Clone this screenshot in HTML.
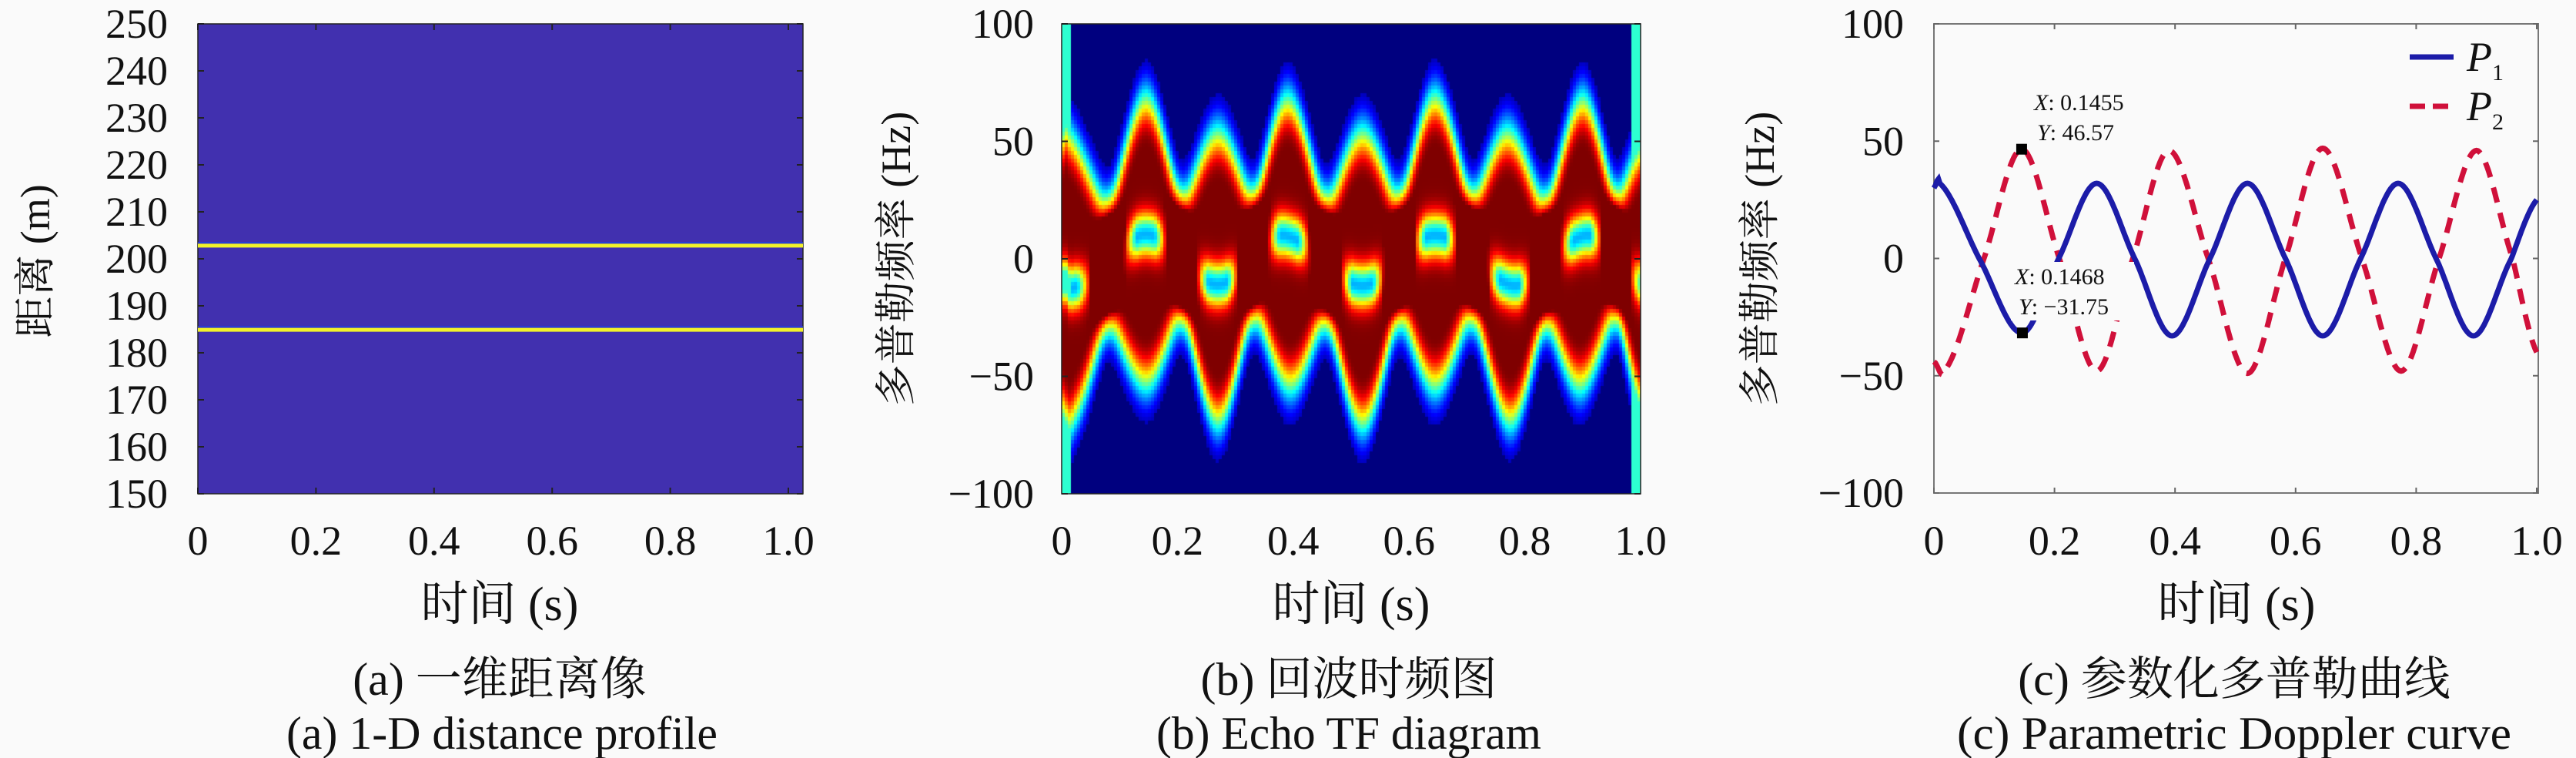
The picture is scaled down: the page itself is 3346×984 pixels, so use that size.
<!DOCTYPE html>
<html><head><meta charset="utf-8"><style>
html,body{margin:0;padding:0;background:#fafafa;}
svg{display:block;}
text{font-family:"Liberation Serif","Noto Serif CJK SC",serif;fill:#111;}
.cj{font-family:"Liberation Serif","Noto Serif CJK SC","Noto Sans CJK SC",serif;}
</style></head><body>
<svg id="fig" width="3346" height="984" viewBox="0 0 3346 984" xmlns="http://www.w3.org/2000/svg">
<rect x="0" y="0" width="3346" height="984" fill="#fafafa"/>
<g id="pa"></g>
<g id="pb"><foreignObject x="1379" y="31" width="752" height="610"><canvas xmlns="http://www.w3.org/1999/xhtml" id="tfc" width="752" height="610" style="display:block"></canvas></foreignObject></g>
<g id="pc"></g>
</svg>
<script>
// ---------- data ----------
const aYTicks=[150,160,170,180,190,200,210,220,230,240,250];
const aXTicks=[0,0.2,0.4,0.6,0.8,1.0];
const aXTickLabels=["0","0.2","0.4","0.6","0.8","1.0"];
const aRanges=[202.8,184.9];
const bYTicks=[-100,-50,0,50,100];
const bYTickLabels=["\u2212100","\u221250","0","50","100"];
const cYTicks=[-100,-50,0,50,100];
const p1T=[0,0.01,0.075,0.146,0.207,0.27,0.333,0.395,0.458,0.52,0.583,0.645,0.708,0.77,0.833,0.895,0.958,1.0];
const p1V=[30,32,0,-31.75,0,32,0,-33,0,32,0,-33,0,32,0,-33,0,25];
const p2T=[0,0.02,0.083,0.1455,0.208,0.27,0.33,0.39,0.455,0.52,0.583,0.645,0.71,0.775,0.838,0.90,0.96,1.0];
const p2V=[-44,-47,0,46.57,0,-48,0,46,0,-49,0,47,0,-48,0,46,0,-40];
const marks=[[0.1455,46.57],[0.1468,-31.75]];

const NS="http://www.w3.org/2000/svg";
function el(tag,attrs,parent,txt){const e=document.createElementNS(NS,tag);for(const k in attrs)e.setAttribute(k,attrs[k]);if(txt!==undefined)e.textContent=txt;parent.appendChild(e);return e;}
function lin(d0,d1,r0,r1){return v=>r0+(v-d0)/(d1-d0)*(r1-r0);}
function interp(T,V,t){
  let i=0;while(i<T.length-2&&t>T[i+1])i++;
  const p0=V[Math.max(i-1,0)],p1=V[i],p2=V[i+1],p3=V[Math.min(i+2,V.length-1)];
  const u=(t-T[i])/(T[i+1]-T[i]);
  return 0.5*((2*p1)+(-p0+p2)*u+(2*p0-5*p1+4*p2-p3)*u*u+(-p0+3*p1-3*p2+p3)*u*u*u);
}
const TOP=31,BOT=641;
const TF=54, TT=62, YT=54, CF=60;

// ---------- panel a ----------
const pa=document.getElementById('pa');
const ax=lin(0,1,257,1024), ay=lin(150,250,BOT,TOP);
let r=el('rect',{x:257,y:TOP,width:786,height:BOT-TOP,fill:'#4130af',stroke:'#222','stroke-width':1.5},pa);

aRanges.forEach(v=>{const l=el('line',{x1:257,x2:1043,y1:ay(v),y2:ay(v),stroke:'#f2f22a','stroke-width':5},pa);
 
 el('line',{x1:257,x2:1043,y1:ay(v)-4,y2:ay(v)-4,stroke:'#2040e0','stroke-width':1.5},pa);});
aYTicks.forEach(v=>{el('line',{x1:257,x2:265,y1:ay(v),y2:ay(v),stroke:'#222','stroke-width':2},pa);
 el('line',{x1:1035,x2:1043,y1:ay(v),y2:ay(v),stroke:'#222','stroke-width':2},pa);
 const t=el('text',{x:218,y:ay(v)+18,'font-size':TF,'text-anchor':'end'},pa,String(v));
 });
aXTicks.forEach((v,i)=>{el('line',{x1:ax(v),x2:ax(v),y1:BOT,y2:BOT-8,stroke:'#222','stroke-width':2},pa);
 el('line',{x1:ax(v),x2:ax(v),y1:TOP,y2:TOP+8,stroke:'#222','stroke-width':2},pa);
 const t=el('text',{x:ax(v),y:720,'font-size':TF,'text-anchor':'middle'},pa,aXTickLabels[i]);
 });
let t=el('text',{x:0,y:0,'font-size':YT,'text-anchor':'middle',class:'cj',transform:'translate(64,339) rotate(-90)'},pa,'距离 (m)');

t=el('text',{x:649,y:805,'font-size':TT,'text-anchor':'middle',class:'cj'},pa,'时间 (s)');

t=el('text',{x:649,y:902,'font-size':CF,'text-anchor':'middle',class:'cj'},pa,'(a) 一维距离像');

t=el('text',{x:652,y:972,'font-size':CF,'text-anchor':'middle',textLength:560,lengthAdjust:'spacingAndGlyphs'},pa,'(a) 1-D distance profile');


// ---------- panel b ----------
const pb=document.getElementById('pb');
const bx=lin(0,1,1379,2131), by=lin(-100,100,BOT,TOP);
function jet(v){v=Math.max(0,Math.min(1,v));
 const r=Math.max(0,Math.min(1,1.5-Math.abs(4*v-3))),g=Math.max(0,Math.min(1,1.5-Math.abs(4*v-2))),b=Math.max(0,Math.min(1,1.5-Math.abs(4*v-1)));
 return [r*255|0,g*255|0,b*255|0];}
const cv=document.getElementById('tfc'),cx=cv.getContext('2d');
const NX=188,NY=122,cw=752/NX,ch=610/NY,W=24.5,P=2.33;
function prof(d){return Math.exp(-Math.pow(Math.abs(d)/W,P));}
for(let i=0;i<NX;i++){const tt=(i+0.5)/NX;const f1=interp(p1T,p1V,tt),f2=interp(p2T,p2V,tt);
 const lo=Math.min(f1,f2),hi=Math.max(f1,f2),fm=(f1+f2)/2+3*Math.sign(f2-f1);
 for(let j=0;j<NY;j++){const f=100-(j+0.5)/NY*200;
  let v=prof(f-f1)+prof(f-f2);
  if(f>lo&&f<hi){v=Math.max(v,1.0-0.7*Math.exp(-Math.pow((f-fm)/9,2))*Math.min(1,(hi-lo-40)/30));}
  const edge=Math.min(tt,1-tt); if(edge<0.016) v=Math.max(v,0.42);
  if(v<0.06) v=0;
  const c=jet(v);cx.fillStyle=`rgb(${c[0]},${c[1]},${c[2]})`;
  cx.fillRect(Math.floor(i*cw),Math.floor(j*ch),Math.ceil(cw)+1,Math.ceil(ch)+1);}}
el('rect',{x:1379,y:TOP,width:752,height:BOT-TOP,fill:'none',stroke:'#222','stroke-width':1.5},pb);
bYTicks.forEach((v,i)=>{el('line',{x1:1379,x2:1387,y1:by(v),y2:by(v),stroke:'#222','stroke-width':2},pb);
 el('line',{x1:2123,x2:2131,y1:by(v),y2:by(v),stroke:'#222','stroke-width':2},pb);
 const t=el('text',{x:1343,y:by(v)+18,'font-size':TF,'text-anchor':'end'},pb,bYTickLabels[i]);
 });
aXTicks.forEach((v,i)=>{const t=el('text',{x:bx(v),y:720,'font-size':TF,'text-anchor':'middle'},pb,aXTickLabels[i]);
 });
t=el('text',{x:0,y:0,'font-size':YT,'text-anchor':'middle',class:'cj',transform:'translate(1182,336) rotate(-90)'},pb,'多普勒频率 (Hz)');

t=el('text',{x:1755,y:805,'font-size':TT,'text-anchor':'middle',class:'cj'},pb,'时间 (s)');

t=el('text',{x:1752,y:902,'font-size':CF,'text-anchor':'middle',class:'cj'},pb,'(b) 回波时频图');

t=el('text',{x:1752,y:972,'font-size':CF,'text-anchor':'middle',textLength:500,lengthAdjust:'spacingAndGlyphs'},pb,'(b) Echo TF diagram');


// ---------- panel c ----------
const pc=document.getElementById('pc');
const X0=2512,X1=3297;
const qx=lin(0,1,X0,3295), qy=lin(-100,100,640,TOP);
el('rect',{x:X0,y:TOP,width:X1-X0,height:640-TOP,fill:'none',stroke:'#777','stroke-width':2},pc);
cYTicks.forEach((v,i)=>{el('line',{x1:X0,x2:X0+7,y1:qy(v),y2:qy(v),stroke:'#666','stroke-width':2},pc);
 el('line',{x1:X1-7,x2:X1,y1:qy(v),y2:qy(v),stroke:'#666','stroke-width':2},pc);
 const t=el('text',{x:2473,y:qy(v)+18,'font-size':TF,'text-anchor':'end'},pc,bYTickLabels[i]);
 });
aXTicks.forEach((v,i)=>{el('line',{x1:qx(v),x2:qx(v),y1:640,y2:633,stroke:'#666','stroke-width':2},pc);
 el('line',{x1:qx(v),x2:qx(v),y1:TOP,y2:TOP+7,stroke:'#666','stroke-width':2},pc);
 const t=el('text',{x:qx(v),y:720,'font-size':TF,'text-anchor':'middle'},pc,aXTickLabels[i]);
 });
function path(T,V){let d='';for(let k=0;k<=400;k++){const tt=k/400;d+=(k?'L':'M')+qx(tt).toFixed(1)+','+qy(interp(T,V,tt)).toFixed(1);}return d;}
let pth=el('path',{d:path(p2T,p2V),fill:'none',stroke:'#d0103a','stroke-width':7,'stroke-dasharray':'20 14'},pc);

pth=el('path',{d:path(p1T,p1V),fill:'none',stroke:'#1c1ca8','stroke-width':7},pc);

el('rect',{x:2612,y:340,width:160,height:76,fill:'#fafafa'},pc);
marks.forEach(m=>{const s=el('rect',{x:qx(m[0])-7,y:qy(m[1])-7,width:14,height:14,fill:'#000'},pc);
 });
[[2642,143,'X',': 0.1455'],[2646,182,'Y',': 46.57'],[2617,369,'X',': 0.1468'],[2622,408,'Y',': \u221231.75']].forEach(a=>{
 const tx=el('text',{x:a[0],y:a[1],'font-size':30},pc);
 
 el('tspan',{'font-style':'italic'},tx,a[2]);el('tspan',{},tx,a[3]);});
const lg=el('g',{},pc);
el('line',{x1:3130,x2:3187,y1:74,y2:74,stroke:'#1c1ca8','stroke-width':7},lg);
el('line',{x1:3130,x2:3187,y1:138,y2:138,stroke:'#d0103a','stroke-width':7,'stroke-dasharray':'20 10'},lg);
[[92,'1'],[156,'2']].forEach(a=>{const tx=el('text',{x:3204,y:a[0],'font-size':54},lg);
 
 el('tspan',{'font-style':'italic'},tx,'P');el('tspan',{'font-size':30,dy:12},tx,a[1]);});
t=el('text',{x:0,y:0,'font-size':YT,'text-anchor':'middle',class:'cj',transform:'translate(2304,336) rotate(-90)'},pc,'多普勒频率 (Hz)');

t=el('text',{x:2905,y:805,'font-size':TT,'text-anchor':'middle',class:'cj'},pc,'时间 (s)');

t=el('text',{x:2902,y:902,'font-size':CF,'text-anchor':'middle',class:'cj'},pc,'(c) 参数化多普勒曲线');

t=el('text',{x:2902,y:972,'font-size':CF,'text-anchor':'middle',textLength:720,lengthAdjust:'spacingAndGlyphs'},pc,'(c) Parametric Doppler curve');

</script>
</body></html>
